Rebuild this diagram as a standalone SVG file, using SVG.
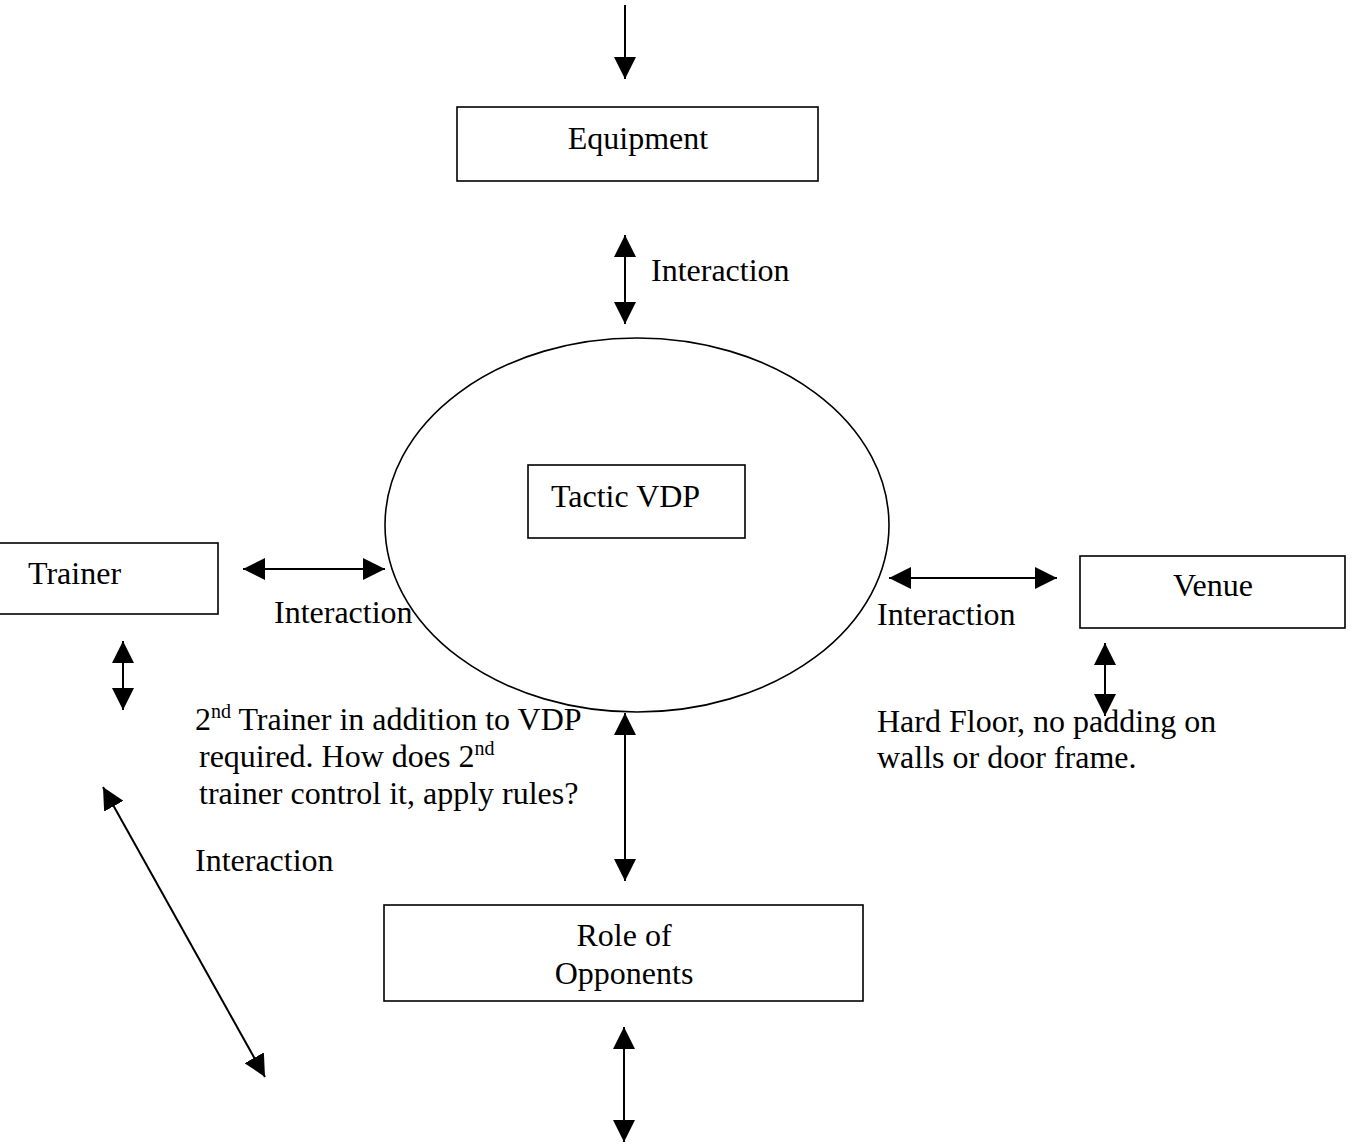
<svg xmlns="http://www.w3.org/2000/svg" width="1355" height="1144" viewBox="0 0 1355 1144">
<style>
.box{fill:#fff;stroke:#000;stroke-width:1.6}
.t{font-family:"Liberation Serif","Times New Roman",serif;font-size:32px;fill:#000}
.c{stroke:#000;stroke-width:2;fill:none}
</style>
<defs>
<marker id="ah" markerUnits="userSpaceOnUse" markerWidth="22" markerHeight="22" viewBox="0 0 22 22" refX="22" refY="11" orient="auto-start-reverse">
<path d="M0,0 L22,11 L0,22 Z" fill="#000"/>
</marker>
</defs>
<rect width="1355" height="1144" fill="#fff"/>
<g id="equipment"><rect class="box" x="457" y="107" width="361" height="74"/><text class="t" x="638" y="149" text-anchor="middle">Equipment</text></g>
<g id="tactic-vdp"><ellipse class="box" cx="637" cy="525" rx="252" ry="187"/><rect class="box" x="528" y="465" width="217" height="73"/><text class="t" x="551" y="507">Tactic VDP</text></g>
<g id="trainer"><rect class="box" x="-2" y="543" width="220" height="71"/><text class="t" x="28" y="584">Trainer</text></g>
<g id="venue"><rect class="box" x="1080" y="556" width="265" height="72"/><text class="t" x="1213" y="596" text-anchor="middle">Venue</text></g>
<g id="role-of-opponents"><rect class="box" x="384" y="905" width="479" height="96"/><text class="t" x="624" y="946" text-anchor="middle">Role of</text><text class="t" x="624" y="984" text-anchor="middle">Opponents</text></g>
<g id="connectors">
<line class="c" x1="625" y1="5" x2="625" y2="79" marker-end="url(#ah)"/>
<line class="c" x1="625" y1="235" x2="625" y2="324" marker-start="url(#ah)" marker-end="url(#ah)"/>
<line class="c" x1="243" y1="569" x2="385" y2="569" marker-start="url(#ah)" marker-end="url(#ah)"/>
<line class="c" x1="889" y1="578" x2="1057" y2="578" marker-start="url(#ah)" marker-end="url(#ah)"/>
<line class="c" x1="123" y1="641" x2="123" y2="710" marker-start="url(#ah)" marker-end="url(#ah)"/>
<line class="c" x1="1105" y1="643" x2="1105" y2="716" marker-start="url(#ah)" marker-end="url(#ah)"/>
<line class="c" x1="625" y1="713" x2="625" y2="881" marker-start="url(#ah)" marker-end="url(#ah)"/>
<line class="c" x1="103" y1="787" x2="265" y2="1077" marker-start="url(#ah)" marker-end="url(#ah)"/>
<line class="c" x1="624" y1="1027" x2="624" y2="1142" marker-start="url(#ah)" marker-end="url(#ah)"/>
</g>
<g id="labels">
<text class="t" x="651" y="281">Interaction</text>
<text class="t" x="274" y="623">Interaction</text>
<text class="t" x="877" y="625">Interaction</text>
<text class="t" x="877" y="732">Hard Floor, no padding on</text>
<text class="t" x="877" y="768">walls or door frame.</text>
<text class="t" x="195" y="730">2<tspan font-size="20" dy="-12">nd</tspan><tspan dy="12"> Trainer in addition to VDP</tspan></text>
<text class="t" x="199" y="767">required. How does 2<tspan font-size="20" dy="-12">nd</tspan></text>
<text class="t" x="199" y="804">trainer control it, apply rules?</text>
<text class="t" x="195" y="871">Interaction</text>
</g>
</svg>
